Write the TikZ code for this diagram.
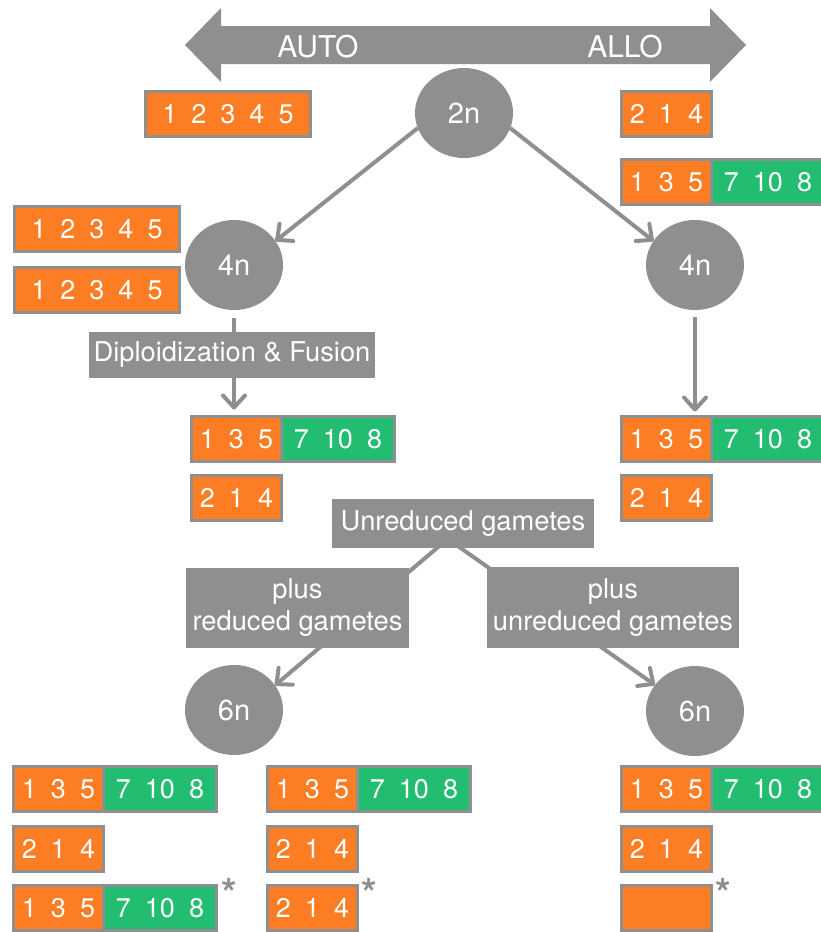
\documentclass[tikz,border=0pt]{standalone}
\usepackage{fontspec}
\setmainfont{TeX Gyre Heros}
\usetikzlibrary{shapes.geometric,arrows.meta,backgrounds,calc}
\definecolor{gr}{RGB}{143,143,143}
\definecolor{orng}{RGB}{252,125,35}
\definecolor{grn}{RGB}{34,189,112}
\newcommand\gp{\hspace{14pt}}
\begin{document}
\begin{tikzpicture}[x=1pt,y=-1pt,
  cell/.style={rectangle,draw=gr,line width=3pt,inner sep=0pt,outer sep=0pt,minimum height=45pt,text=white,font=\fontsize{27}{30}\selectfont,anchor=north west},
  ocell/.style={cell,fill=orng,minimum width=90pt},
  wcell/.style={cell,fill=orng,minimum width=165pt},
  gcell/.style={cell,fill=grn,minimum width=113pt,anchor=west},
  ploid/.style={ellipse,fill=gr,inner sep=0pt,outer sep=0pt,minimum width=98pt,minimum height=90pt,text=white,font=\fontsize{29}{30}\selectfont},
  lab/.style={rectangle,fill=gr,inner sep=0pt,text=white,font=\fontsize{27.3}{32}\selectfont,align=center},
  conn/.style={draw=gr,line width=4pt,-{Straight Barb[length=12pt,width=22pt,round]}},
  star/.style={text=gr,font=\fontsize{40}{40}\selectfont\bfseries,anchor=base,inner sep=0pt},
  banner/.style={text=white,font=\fontsize{30}{30}\selectfont,anchor=base,inner sep=0pt}
]
\useasboundingbox (0,0) rectangle (820,932);

% top double arrow
\fill[gr] (185,45) -- (221,8) -- (221,26) -- (710,26) -- (710,8) -- (746,45) -- (710,82) -- (710,64) -- (221,64) -- (221,82) -- cycle;
\node[banner] (auto) at (318,57) {AUTO};
\node[banner] (allo) at (625,57) {ALLO};

% ploidy nodes
\node[ploid] (n2) at (464,113) {2n};
\node[ploid] (n4l) at (234,265) {4n};
\node[ploid] (n4r) at (695,265) {4n};
\node[ploid] (n6l) at (234,710) {6n};
\node[ploid] (n6r) at (695,711) {6n};

% top boxes
\node[wcell] (a) at (145.5,91.5) {1\gp2\gp3\gp4\gp5};
\node[ocell] (b) at (621.5,91.5) {2\gp1\gp4};
\node[ocell] (co) at (621.5,159.5) {1\gp3\gp5};
\node[gcell] (cg) at (co.east) {7\gp10\gp8};

% 4n auto boxes
\node[wcell] (d1) at (14.5,206.5) {1\gp2\gp3\gp4\gp5};
\node[wcell] (d2) at (14.5,267.5) {1\gp2\gp3\gp4\gp5};

% after 4n
\node[ocell] (eo) at (191.5,416.5) {1\gp3\gp5};
\node[gcell] (eg) at (eo.east) {7\gp10\gp8};
\node[ocell] (f) at (191.5,475.5) {2\gp1\gp4};
\node[ocell] (go) at (621.5,416.5) {1\gp3\gp5};
\node[gcell] (gg) at (go.east) {7\gp10\gp8};
\node[ocell] (h) at (621.5,475.5) {2\gp1\gp4};

% labels
\node[lab,minimum width=286pt,minimum height=46pt] (dip) at (232,355) {Diploidization \& Fusion};
\node[lab,minimum width=262pt,minimum height=49pt] (ug) at (463,523.5) {Unreduced gametes};
\node[lab,minimum width=223pt,minimum height=80pt] (pr) at (297.5,608) {plus\\reduced gametes};
\node[lab,minimum width=252pt,minimum height=81pt] (pu) at (613,607.5) {plus\\unreduced gametes};

% bottom left
\node[ocell] (bl1o) at (13.5,766.5) {1\gp3\gp5};
\node[gcell] (bl1g) at (bl1o.east) {7\gp10\gp8};
\node[ocell] (bl2) at (13.5,826.5) {2\gp1\gp4};
\node[ocell] (bl3o) at (13.5,885.5) {1\gp3\gp5};
\node[gcell] (bl3g) at (bl3o.east) {7\gp10\gp8};
\node[star] (s1) at (229,907) {*};

% bottom middle
\node[ocell] (bm1o) at (267.5,766.5) {1\gp3\gp5};
\node[gcell] (bm1g) at (bm1o.east) {7\gp10\gp8};
\node[ocell] (bm2) at (267.5,826.5) {2\gp1\gp4};
\node[ocell] (bm3) at (267.5,885.5) {2\gp1\gp4};
\node[star] (s2) at (369,907) {*};

% bottom right
\node[ocell] (br1o) at (621.5,766.5) {1\gp3\gp5};
\node[gcell] (br1g) at (br1o.east) {7\gp10\gp8};
\node[ocell] (br2) at (621.5,826.5) {2\gp1\gp4};
\node[ocell] (br3) at (621.5,885.5) {};
\node[star] (s3) at (723,907) {*};

% connectors
\begin{scope}[on background layer]
\draw[conn] (n2.198) -- (n4l.30);
\draw[conn] (n2.342) -- (n4r.150);
\draw[conn,shorten <=8pt,shorten >=7pt] (n4l.south) -- (n4l.south |- eo.north);
\draw[conn,shorten <=7pt,shorten >=5pt] (n4r.south) -- (n4r.south |- go.north);
\draw[conn] ([xshift=-18pt,yshift=7pt]ug.south) -- (n6l.31);
\draw[conn] ([xshift=-12pt,yshift=7pt]ug.south) -- (n6r.147);
\end{scope}
\end{tikzpicture}
\end{document}
